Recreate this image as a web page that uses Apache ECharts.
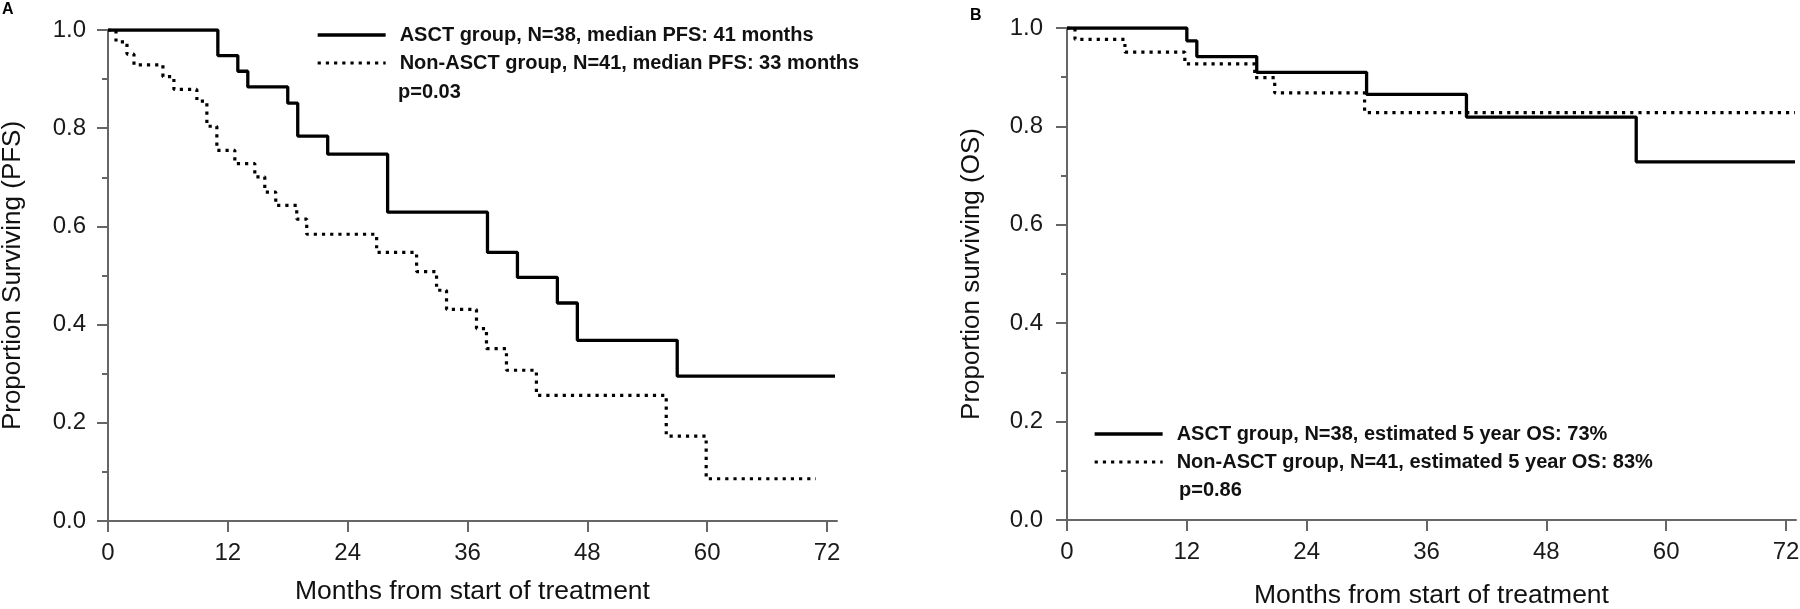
<!DOCTYPE html>
<html>
<head>
<meta charset="utf-8">
<title>PFS / OS</title>
<script src="https://cdn.jsdelivr.net/npm/echarts@6/dist/echarts.min.js"></script>
<style>
  html, body { margin: 0; padding: 0; background: #fff; }
  #chart { width: 1800px; height: 609px; }
</style>
</head>
<body>
<div id="chart"></div>
<script>
// ticks (months / proportion)
const monthTicks = [0, 12, 24, 36, 48, 60, 72]

// A: progression-free survival
const asctPfsT = [0, 11, 13, 14, 18, 19, 22, 28, 38, 41, 45, 47, 57, 72.8]
const asctPfsS = [1, 0.948, 0.916, 0.884, 0.851, 0.784, 0.747, 0.629, 0.547, 0.496, 0.444, 0.368, 0.295, 0.295]
const nonPfsT = [0, 0.8, 1.9, 2.6, 5.5, 6.6, 8.9, 9.9, 10.9, 12.7, 14.7, 15.7, 16.8, 18.9, 19.9, 26.9, 30.9, 32.9, 33.9, 36.9, 37.9, 39.9, 42.9, 55.9, 59.9, 70.9]
const nonPfsS = [1, 0.976, 0.951, 0.929, 0.905, 0.879, 0.855, 0.804, 0.755, 0.728, 0.701, 0.670, 0.643, 0.615, 0.584, 0.547, 0.508, 0.470, 0.431, 0.392, 0.351, 0.307, 0.256, 0.173, 0.086, 0.086]

// B: overall survival
const asctOsT = [0, 12, 13, 19, 30, 40, 57, 72.9]
const asctOsS = [1, 0.974, 0.942, 0.910, 0.865, 0.819, 0.728, 0.728]
const nonOsT = [0, 0.8, 5.8, 11.8, 18.8, 20.8, 29.8, 72.9]
const nonOsS = [1, 0.977, 0.951, 0.927, 0.899, 0.868, 0.828, 0.828]

const nameAsctA = 'ASCT group, N=38, median PFS: 41 months'
const nameNonA = 'Non-ASCT group, N=41, median PFS: 33 months'
const nameAsctB = 'ASCT group, N=38, estimated 5 year OS: 73%'
const nameNonB = 'Non-ASCT group, N=41, estimated 5 year OS: 83%'

const FONT = '"Liberation Sans", Arial, Helvetica, sans-serif'
const AXIS_COLOR = '#666'

function pairs (t, s) {
  return t.map((v, i) => [v, s[i]])
}

function xAxisOf (gridIndex, nameGap) {
  return {
    type: 'value',
    gridIndex: gridIndex,
    min: 0,
    max: 73,
    name: 'Months from start of treatment',
    nameLocation: 'middle',
    nameGap: nameGap,
    nameTextStyle: {color: '#111', fontSize: 26.5, fontFamily: FONT},
    axisLine: {show: true, onZero: false, lineStyle: {color: AXIS_COLOR, width: 2}},
    axisTick: {show: true, length: 11, customValues: monthTicks, lineStyle: {color: AXIS_COLOR, width: 2}},
    axisLabel: {show: true, customValues: monthTicks, margin: 20, color: '#1a1a1a', fontSize: 24, fontFamily: FONT},
    splitLine: {show: false}
  }
}

function yAxisOf (gridIndex, name, labelMargin) {
  return {
    type: 'value',
    gridIndex: gridIndex,
    min: 0,
    max: 1,
    interval: 0.2,
    name: name,
    nameLocation: 'middle',
    nameGap: 82,
    nameTextStyle: {color: '#111', fontSize: 26, fontFamily: FONT},
    axisLine: {show: true, onZero: false, lineStyle: {color: AXIS_COLOR, width: 2}},
    axisTick: {show: true, length: 11, lineStyle: {color: AXIS_COLOR, width: 2}},
    minorTick: {show: true, splitNumber: 2, length: 6, lineStyle: {color: AXIS_COLOR, width: 2}},
    axisLabel: {
      margin: labelMargin,
      color: '#1a1a1a',
      fontSize: 24,
      fontFamily: FONT,
      formatter: function (v) { return v.toFixed(1) }
    },
    splitLine: {show: false}
  }
}

function kmSeries (name, idx, data, dotted) {
  return {
    name: name,
    type: 'line',
    xAxisIndex: idx,
    yAxisIndex: idx,
    step: 'end',
    symbol: 'none',
    showSymbol: false,
    data: data,
    lineStyle: dotted
      ? {color: '#000', width: 3.2, type: [3.2, 5], cap: 'butt'}
      : {color: '#000', width: 3.3, type: 'solid'},
    itemStyle: {color: '#000'},
    emphasis: {disabled: true},
    animation: false
  }
}

function legendOf (left, top, names) {
  return {
    data: names,
    orient: 'vertical',
    left: left,
    top: top,
    padding: 0,
    itemWidth: 68,
    itemHeight: 20,
    itemGap: 8,
    selectedMode: false,
    // only the line sample, no marker
    itemStyle: {color: 'rgba(0,0,0,0)', borderWidth: 0, opacity: 0},
    lineStyle: {width: 'inherit'},
    textStyle: {color: '#111', fontSize: 20, fontWeight: 'bold', fontFamily: FONT, padding: [0, 0, 0, 9]}
  }
}

const chart = echarts.init(document.getElementById('chart'), null, {renderer: 'canvas'})

chart.setOption({
  backgroundColor: '#fff',
  animation: false,
  grid: [
    {left: 108, top: 30, width: 729, height: 491, outerBoundsMode: 'none'},
    {left: 1067, top: 28, width: 729, height: 492, outerBoundsMode: 'none'}
  ],
  xAxis: [xAxisOf(0, 57), xAxisOf(1, 62)],
  yAxis: [
    yAxisOf(0, 'Proportion Surviving (PFS)', 22),
    yAxisOf(1, 'Proportion surviving (OS)', 24)
  ],
  legend: [
    legendOf(316, 25, [nameAsctA, nameNonA]),
    legendOf(1093, 424, [nameAsctB, nameNonB])
  ],
  graphic: [
    {type: 'text', x: 2, y: 10, style: {text: 'A', fill: '#000', font: 'bold 16px ' + FONT, verticalAlign: 'middle'}},
    {type: 'text', x: 970, y: 16, style: {text: 'B', fill: '#000', font: 'bold 16px ' + FONT, verticalAlign: 'middle'}},
    {type: 'text', x: 398, y: 92, style: {text: 'p=0.03', fill: '#111', font: 'bold 20px ' + FONT, verticalAlign: 'middle'}},
    {type: 'text', x: 1179, y: 490, style: {text: 'p=0.86', fill: '#111', font: 'bold 20px ' + FONT, verticalAlign: 'middle'}}
  ],
  series: [
    kmSeries(nameAsctA, 0, pairs(asctPfsT, asctPfsS), false),
    kmSeries(nameNonA, 0, pairs(nonPfsT, nonPfsS), true),
    kmSeries(nameAsctB, 1, pairs(asctOsT, asctOsS), false),
    kmSeries(nameNonB, 1, pairs(nonOsT, nonOsS), true)
  ]
})
</script>
</body>
</html>
